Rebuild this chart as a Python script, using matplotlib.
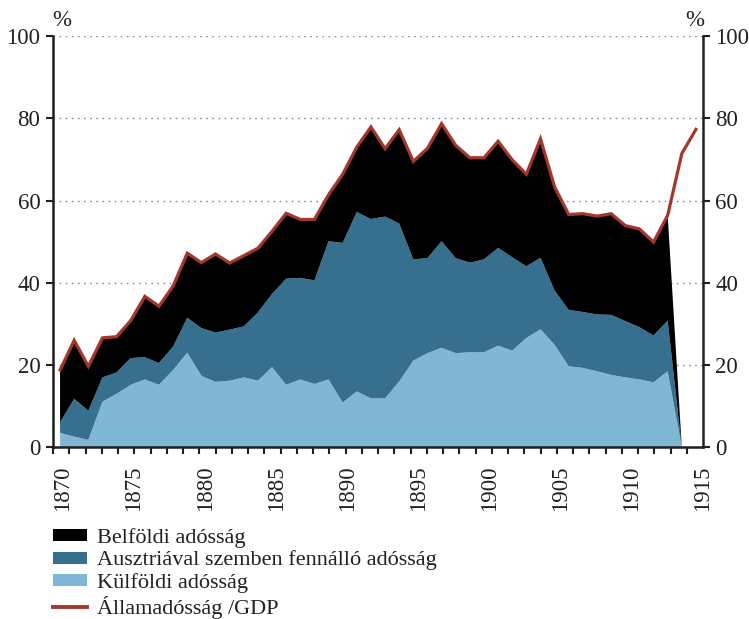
import numpy as np
import matplotlib
matplotlib.use("Agg")
import matplotlib.pyplot as plt
from matplotlib.patches import Patch
from matplotlib.lines import Line2D

plt.rcParams['font.family'] = ['Liberation Serif', 'DejaVu Serif']

years_area = list(range(1870, 1915))
years_line = list(range(1870, 1916))

kulfoldi = [3.5, 2.6, 1.8, 11.1, 13.0, 15.2, 16.5, 15.2, 18.8, 23.0,
            17.4, 15.9, 16.2, 17.0, 16.2, 19.5, 15.2, 16.5, 15.4, 16.5,
            10.9, 13.6, 11.9, 11.9, 16.0, 21.1, 22.9, 24.2, 22.9, 23.1,
            23.1, 24.7, 23.5, 26.6, 28.7, 24.9, 19.7, 19.3, 18.5, 17.6,
            17.0, 16.5, 15.8, 18.5, 0.0]
ausztria = [2.6, 9.2, 7.1, 5.9, 5.2, 6.5, 5.4, 5.3, 5.7, 8.5,
            11.6, 12.0, 12.4, 12.4, 16.6, 17.8, 25.8, 24.7, 25.2, 33.6,
            38.8, 43.6, 43.6, 44.2, 38.4, 24.6, 23.1, 25.9, 23.1, 21.8,
            22.6, 23.8, 22.7, 17.4, 17.4, 13.2, 13.7, 13.6, 13.8, 14.6,
            13.7, 12.7, 11.4, 12.3, 0.0]
belfoldi = [12.7, 14.2, 10.8, 9.6, 8.7, 9.1, 14.8, 13.8, 14.7, 15.7,
            15.9, 19.1, 16.2, 17.2, 15.6, 15.2, 15.9, 14.2, 14.8, 11.3,
            16.7, 15.8, 22.4, 16.5, 22.8, 23.8, 26.7, 28.6, 27.4, 25.5,
            24.7, 25.9, 23.7, 22.4, 28.9, 25.2, 23.2, 23.9, 23.9, 24.6,
            23.2, 23.9, 22.7, 25.6, 0.0]
allamadossag = [18.8, 26.0, 19.7, 26.6, 26.9, 30.8, 36.7, 34.3, 39.2, 47.2,
                44.9, 47.0, 44.8, 46.6, 48.4, 52.5, 56.9, 55.4, 55.4, 61.4,
                66.4, 73.0, 77.9, 72.6, 77.2, 69.5, 72.7, 78.7, 73.4, 70.4,
                70.4, 74.4, 69.9, 66.4, 75.0, 63.3, 56.6, 56.8, 56.2, 56.8,
                53.9, 53.1, 49.9, 56.4, 71.4, 77.3]

tick_years = [1870, 1875, 1880, 1885, 1890, 1895, 1900, 1905, 1910, 1915]
y_ticks = [0, 20, 40, 60, 80, 100]
labels = ['Belföldi adósság', 'Ausztriával szemben fennálló adósság',
          'Külföldi adósság', 'Államadósság /GDP']

c_black = '#000000'
c_dark = '#37708f'
c_light = '#7fb7d5'
c_red = '#a3372b'
c_text = '#231f20'
fs = 16.5

fig = plt.figure(figsize=(7.49, 6.19), dpi=100)
ax = fig.add_axes([53/749, 1-447.3/619, 650/749, (447.3-36)/619])

ax.stackplot(years_area, kulfoldi, ausztria, belfoldi,
             colors=[c_light, c_dark, c_black], linewidth=0, zorder=2)
ax.plot(years_line, allamadossag, color=c_red, lw=2.3, zorder=3,
        solid_joinstyle='miter')

for v in y_ticks[1:]:
    ax.axhline(v, color='#8c8c8c', lw=1.0, ls=(0, (1.2, 3.2)), zorder=1)

ax.set_xlim(1869.5, 1915.5)
ax.set_ylim(0, 100)

# x ticks
label_pos = np.linspace(1870.2, 1915.5, len(tick_years))
ax.set_xticks(label_pos)
ax.set_xticklabels([str(y) for y in tick_years], rotation=90, fontsize=fs,
                   color=c_text)
ax.tick_params(axis='x', which='major', length=0, pad=13)
ax.set_xticks(np.linspace(1869.5, 1915.5, 41), minor=True)
ax.tick_params(axis='x', which='minor', length=5, width=1.5, direction='out',
               color=c_text)

ax.set_yticks(y_ticks)
ax.set_yticklabels([str(v) for v in y_ticks], fontsize=fs, color=c_text)
ax.tick_params(axis='y', length=5, width=1.5, direction='out', color=c_text,
               pad=4)

ax2 = ax.twinx()
ax2.set_ylim(0, 100)
ax2.set_yticks(y_ticks)
ax2.set_yticklabels([str(v) for v in y_ticks], fontsize=fs, color=c_text)
ax2.tick_params(axis='y', length=5, width=1.5, direction='out', color=c_text,
                pad=4)

for a in (ax, ax2):
    a.spines['top'].set_visible(False)
    for s in ('left', 'right', 'bottom'):
        a.spines[s].set_linewidth(1.8)
        a.spines[s].set_color(c_text)
ax2.spines['bottom'].set_visible(False)
ax2.spines['left'].set_visible(False)
ax.spines['right'].set_visible(False)

fig.text(62/749, 1-21/619, '%', ha='center', va='center', fontsize=fs,
         color=c_text)
fig.text(695/749, 1-21/619, '%', ha='center', va='center', fontsize=fs,
         color=c_text)

handles = [Patch(facecolor=c_black, edgecolor='none'),
           Patch(facecolor=c_dark, edgecolor='none'),
           Patch(facecolor=c_light, edgecolor='none'),
           Line2D([0], [0], color=c_red, lw=2.8)]
leg = fig.legend(handles, labels, loc='upper left',
                 bbox_to_anchor=(53/749, 1-528/619), frameon=False,
                 fontsize=16, handlelength=1.53, handleheight=0.45,
                 labelspacing=0.12, handletextpad=0.45, borderaxespad=0,
                 borderpad=0)
for t in leg.get_texts():
    t.set_color(c_text)

fig.savefig('out.png', dpi=100)
